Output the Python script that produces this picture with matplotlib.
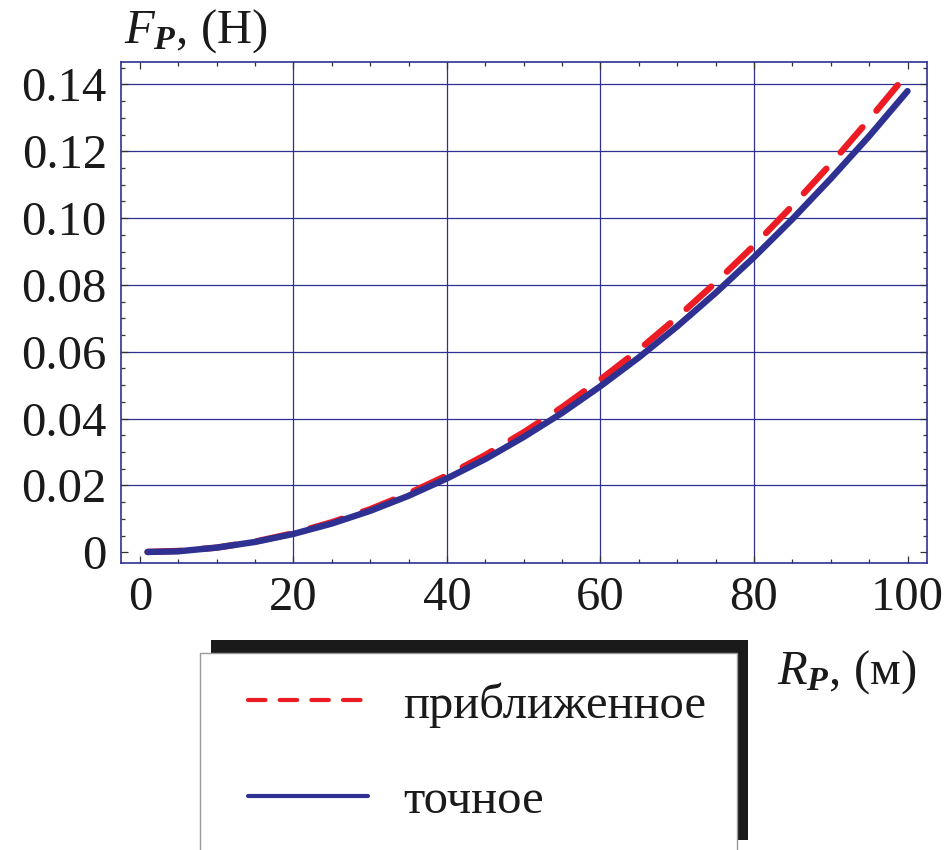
import matplotlib
matplotlib.use("Agg")
import matplotlib.pyplot as plt
from matplotlib.patches import Rectangle
from matplotlib.lines import Line2D
from matplotlib.ticker import MultipleLocator

plt.rcParams['font.family'] = ['Liberation Serif', 'DejaVu Serif']
plt.rcParams['mathtext.fontset'] = 'custom'
plt.rcParams['mathtext.rm'] = 'Liberation Serif'
plt.rcParams['mathtext.it'] = 'Liberation Serif:italic'
plt.rcParams['mathtext.bf'] = 'Liberation Serif:italic:bold'

# ---- data ----
R_exact = [1, 5, 10, 15, 20, 25, 30, 35, 40, 45, 50, 55, 60, 65, 70, 75, 80, 85, 90, 95, 100]
F_exact = [0.0001, 0.0003, 0.0014, 0.0031, 0.0055, 0.0086, 0.0124, 0.0169, 0.0221, 0.0279,
           0.0345, 0.0417, 0.0497, 0.0583, 0.0676, 0.0776, 0.0883, 0.0997, 0.1118, 0.1245, 0.1380]
R_approx = [1, 5, 10, 15, 20, 25, 30, 35, 40, 45, 50, 55, 60, 65, 70, 75, 80, 85, 90, 95, 98.8]
F_approx = [0.0001, 0.0004, 0.0014, 0.0032, 0.0057, 0.0090, 0.0129, 0.0176, 0.0230, 0.0291,
            0.0359, 0.0434, 0.0517, 0.0606, 0.0703, 0.0807, 0.0918, 0.1037, 0.1162, 0.1295, 0.1400]
x_ticks = [0, 20, 40, 60, 80, 100]
y_ticks = [0, 0.02, 0.04, 0.06, 0.08, 0.10, 0.12, 0.14]
y_ticklabels = ['0', '0.02', '0.04', '0.06', '0.08', '0.10', '0.12', '0.14']
x_grid = [20, 40, 60, 80]
y_grid = [0.02, 0.04, 0.06, 0.08, 0.10, 0.12, 0.14]
labels = ['приближенное', 'точное']

RED = '#ed1c24'
BLUE = '#2e3192'
NAVY = '#2e3192'
FS = 35

fig = plt.figure(figsize=(9.51, 8.5), dpi=100)
W, H = 951, 850
ax = fig.add_axes([120.7 / W, 1 - 563 / H, (926.7 - 120.7) / W, (563 - 61.7) / H])
ax.set_xlim(-2.5, 102.5)
ax.set_ylim(-0.0032, 0.1468)

for xv in x_grid:
    ax.axvline(xv, color=NAVY, lw=0.9, zorder=1)
for yv in y_grid:
    ax.axhline(yv, color=NAVY, lw=0.9, zorder=1)

ax.plot(R_approx, F_approx, color=RED, lw=4.6, dashes=(5.2, 3.4),
        dash_capstyle='round', solid_capstyle='round', zorder=3)
ax.plot(R_exact, F_exact, color=BLUE, lw=4.6, solid_capstyle='round', zorder=4)

for s in ax.spines.values():
    s.set_color(NAVY)
    s.set_linewidth(1.2)

ax.set_xticks(x_ticks)
ax.set_yticks(y_ticks)
ax.set_yticklabels(y_ticklabels)
ax.xaxis.set_minor_locator(MultipleLocator(5))
ax.yaxis.set_minor_locator(MultipleLocator(0.005))
ax.tick_params(which='both', direction='in', top=True, right=True, colors='#333333',
               labelcolor='#1a1a1a', labelsize=FS, width=0.9)
ax.tick_params(which='major', length=5, pad=10)
ax.tick_params(which='minor', length=3)
ax.tick_params(axis='x', which='major', pad=9)

# axis labels
fig.text(124 / W, 1 - 43 / H, r'$F_{\mathbf{P}}$, (Н)', fontsize=FS, color='#1a1a1a',
         ha='left', va='baseline')
fig.text(777 / W, 1 - 684 / H, r'$R_{\mathbf{P}}$, (м)', fontsize=FS, color='#1a1a1a',
         ha='left', va='baseline')

# legend with shadow
shadow = Rectangle((211 / W, 1 - 840 / H), (748 - 211) / W, (840 - 640) / H,
                   transform=fig.transFigure, facecolor='#1a1a1a', edgecolor='none', zorder=5)
box = Rectangle((200 / W, 1 - 853 / H), (737 - 200) / W, (853 - 653) / H,
                transform=fig.transFigure, facecolor='white', edgecolor='#999999', lw=1.0, zorder=6)
fig.add_artist(shadow)
fig.add_artist(box)
handles = [Line2D([], [], color=RED, lw=3.0, dashes=(4.2, 3.4), dash_capstyle='round'),
           Line2D([], [], color=BLUE, lw=3.0, solid_capstyle='round')]
leg = fig.legend(handles, labels, loc='upper left', bbox_to_anchor=(248 / W, 1 - 682 / H),
                 frameon=False, fontsize=FS, handlelength=2.47, handletextpad=0.72,
                 labelspacing=1.05, borderaxespad=0, borderpad=0)
leg.set_zorder(7)
for t in leg.get_texts():
    t.set_color('#1a1a1a')

fig.savefig('out.png', dpi=100)
